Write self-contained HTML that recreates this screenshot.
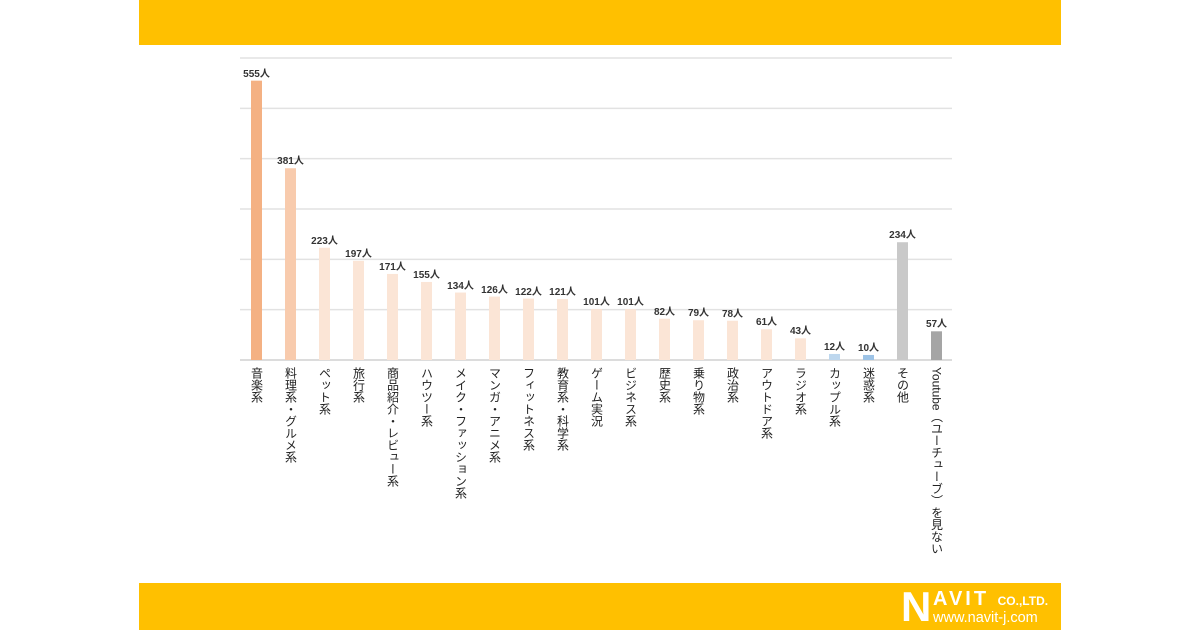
<!DOCTYPE html>
<html><head><meta charset="utf-8"><style>
body{margin:0;width:1200px;height:630px;background:#fff;position:relative;overflow:hidden;font-family:"Liberation Sans","Noto Sans CJK JP",sans-serif}
.band{position:absolute;left:139px;width:922px;background:#FFC000}
.cat{position:absolute;top:367px;writing-mode:vertical-rl;font-size:12px;color:#222;line-height:14px;white-space:nowrap}
.val{position:absolute;font-size:10px;font-weight:bold;color:#333;transform:translateX(-50%);white-space:nowrap}
</style></head><body>
<div class="band" style="top:0;height:45px"></div>
<div class="band" style="top:583px;height:47px">
<div style="position:absolute;left:762px;top:3px;color:#fff;font-weight:bold">
<span style="font-size:42px;line-height:42px">N</span><span style="position:absolute;left:32px;top:2px;font-size:20px;letter-spacing:3px;white-space:nowrap">AVIT <span style="font-size:12px;letter-spacing:0">CO.,LTD.</span></span><span style="position:absolute;left:32px;top:24px;font-size:14.5px;font-weight:normal;white-space:nowrap">www.navit-j.com</span></div>
</div>
<svg id="chart" width="1200" height="630" style="position:absolute;left:0;top:0"></svg>
<div id="labels"></div>
<script>
const categories=["音楽系","料理系・グルメ系","ペット系","旅行系","商品紹介・レビュー系","ハウツー系","メイク・ファッション系","マンガ・アニメ系","フィットネス系","教育系・科学系","ゲーム実況","ビジネス系","歴史系","乗り物系","政治系","アウトドア系","ラジオ系","カップル系","迷惑系","その他","Youtube（ユーチューブ）を見ない"];
const values=[555,381,223,197,171,155,134,126,122,121,101,101,82,79,78,61,43,12,10,234,57];
const colors=["#F4B183","#F8CBAD","#FBE5D6","#FBE5D6","#FBE5D6","#FBE5D6","#FBE5D6","#FBE5D6","#FBE5D6","#FBE5D6","#FBE5D6","#FBE5D6","#FBE5D6","#FBE5D6","#FBE5D6","#FBE5D6","#FBE5D6","#BDD7EE","#9DC3E6","#C9C9C9","#A5A5A5"];
const ticks=[0,100,200,300,400,500,600];
const ns="http://www.w3.org/2000/svg";
const svg=document.getElementById('chart');
const lab=document.getElementById('labels');
const y=v=>360-v*(302/600);
const xc=i=>256.5+i*34;
ticks.forEach(t=>{const l=document.createElementNS(ns,'line');


l.setAttribute('x1',240);l.setAttribute('x2',952);l.setAttribute('y1',y(t));l.setAttribute('y2',y(t));
l.setAttribute('stroke',t===0?'#d0d0d0':'#e2e2e2');l.setAttribute('stroke-width',1.5);svg.appendChild(l);});
values.forEach((v,i)=>{
const r=document.createElementNS(ns,'rect');


r.setAttribute('x',xc(i)-5.5);r.setAttribute('width',11);r.setAttribute('y',y(v));r.setAttribute('height',360-y(v));r.setAttribute('fill',colors[i]);svg.appendChild(r);
const d=document.createElement('div');d.className='val';


d.style.left=xc(i)+'px';d.style.top=(y(v)-16)+'px';d.textContent=v+'人';lab.appendChild(d);
const c=document.createElement('div');c.className='cat';


c.style.left=(xc(i)-7)+'px';c.textContent=categories[i];lab.appendChild(c);
});
</script>
</body></html>
